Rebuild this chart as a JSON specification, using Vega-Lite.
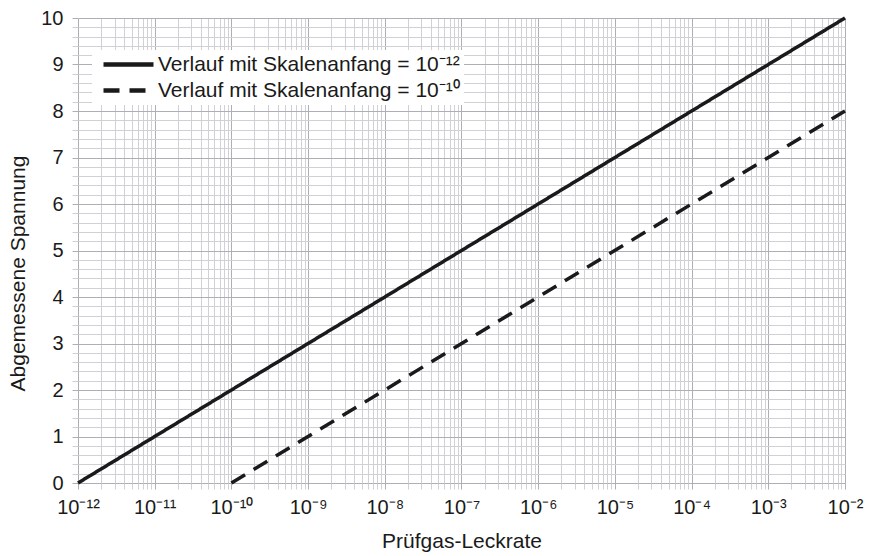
{
  "$schema": "https://vega.github.io/schema/vega-lite/v6.json",
  "width": 767,
  "height": 465,
  "autosize": "none",
  "padding": {"left": 78, "top": 18, "right": 24, "bottom": 73},
  "background": "white",
  "config": {
    "view": {"stroke": null},
    "font": "Liberation Sans"
  },
  "data": {
    "values": [
      {"x": 1e-12, "y": 0, "series": "Verlauf mit Skalenanfang = 10⁻¹²"},
      {"x": 1e-2, "y": 10, "series": "Verlauf mit Skalenanfang = 10⁻¹²"},
      {"x": 1e-10, "y": 0, "series": "Verlauf mit Skalenanfang = 10⁻¹⁰"},
      {"x": 1e-2, "y": 8, "series": "Verlauf mit Skalenanfang = 10⁻¹⁰"}
    ]
  },
  "mark": {"type": "line", "strokeWidth": 3.5, "color": "#1a1a1a", "strokeCap": "butt"},
  "encoding": {
    "x": {
      "field": "x",
      "type": "quantitative",
      "scale": {"type": "log", "domain": [1e-12, 1e-2], "nice": false},
      "axis": {
        "title": "Prüfgas-Leckrate",
        "titleFontSize": 21,
        "titleFontWeight": "normal",
        "titleColor": "#1a1a1a",
        "titlePadding": 13,
        "values": [1e-12,2e-12,3e-12,4e-12,5e-12,6e-12,7e-12,8e-12,9e-12,
                   1e-11,2e-11,3e-11,4e-11,5e-11,6e-11,7e-11,8e-11,9e-11,
                   1e-10,2e-10,3e-10,4e-10,5e-10,6e-10,7e-10,8e-10,9e-10,
                   1e-9,2e-9,3e-9,4e-9,5e-9,6e-9,7e-9,8e-9,9e-9,
                   1e-8,2e-8,3e-8,4e-8,5e-8,6e-8,7e-8,8e-8,9e-8,
                   1e-7,2e-7,3e-7,4e-7,5e-7,6e-7,7e-7,8e-7,9e-7,
                   1e-6,2e-6,3e-6,4e-6,5e-6,6e-6,7e-6,8e-6,9e-6,
                   1e-5,2e-5,3e-5,4e-5,5e-5,6e-5,7e-5,8e-5,9e-5,
                   1e-4,2e-4,3e-4,4e-4,5e-4,6e-4,7e-4,8e-4,9e-4,
                   1e-3,2e-3,3e-3,4e-3,5e-3,6e-3,7e-3,8e-3,9e-3,
                   1e-2],
        "labelExpr": "abs(datum.value / pow(10, round(log(datum.value)/LN10)) - 1) < 0.01 ? ['10⁻¹²','10⁻¹¹','10⁻¹⁰','10⁻⁹','10⁻⁸','10⁻⁷','10⁻⁶','10⁻⁵','10⁻⁴','10⁻³','10⁻²'][round(log(datum.value)/LN10) + 12] : ''",
        "labelFontSize": 20,
        "labelColor": "#1a1a1a",
        "labelPadding": 8,
        "labelOverlap": false,
        "labelBound": false,
        "labelFlush": false,
        "domain": false,
        "grid": true,
        "gridColor": {"condition": {"test": "abs(datum.value / pow(10, round(log(datum.value)/LN10)) - 1) < 0.01", "value": "#aeaeb6"}, "value": "#d0d0d5"},
        "gridWidth": 1,
        "ticks": true,
        "tickSize": 6,
        "tickColor": {"condition": {"test": "abs(datum.value / pow(10, round(log(datum.value)/LN10)) - 1) < 0.01", "value": "#aeaeb6"}, "value": "#d0d0d5"}
      }
    },
    "y": {
      "field": "y",
      "type": "quantitative",
      "scale": {"domain": [0, 10], "nice": false},
      "axis": {
        "title": "Abgemessene Spannung",
        "titleFontSize": 21,
        "titleFontWeight": "normal",
        "titleColor": "#1a1a1a",
        "titlePadding": 12,
        "titleY": 255,
        "values": [0,0.2,0.4,0.6,0.8,1,1.2,1.4,1.6,1.8,2,2.2,2.4,2.6,2.8,3,3.2,3.4,3.6,3.8,4,4.2,4.4,4.6,4.8,5,5.2,5.4,5.6,5.8,6,6.2,6.4,6.6,6.8,7,7.2,7.4,7.6,7.8,8,8.2,8.4,8.6,8.8,9,9.2,9.4,9.6,9.8,10],
        "labelExpr": "abs(datum.value - round(datum.value)) < 0.01 ? '' + round(datum.value) : ''",
        "labelFontSize": 20,
        "labelColor": "#1a1a1a",
        "labelPadding": 9,
        "labelOverlap": false,
        "labelBound": false,
        "labelFlush": false,
        "domain": false,
        "grid": true,
        "gridColor": {"condition": {"test": "abs(datum.value - round(datum.value)) < 0.01", "value": "#aeaeb6"}, "value": "#d0d0d5"},
        "gridWidth": 1,
        "ticks": true,
        "tickSize": 6,
        "tickColor": {"condition": {"test": "abs(datum.value - round(datum.value)) < 0.01", "value": "#aeaeb6"}, "value": "#d0d0d5"}
      }
    },
    "strokeDash": {
      "field": "series",
      "type": "nominal",
      "scale": {
        "domain": ["Verlauf mit Skalenanfang = 10⁻¹²", "Verlauf mit Skalenanfang = 10⁻¹⁰"],
        "range": [[1, 0], [16, 10]]
      },
      "legend": {
        "title": null,
        "orient": "none",
        "legendX": 14,
        "legendY": 32,
        "fillColor": "white",
        "padding": 4,
        "symbolType": "M-1,0H9",
        "symbolSize": 100,
        "symbolOffset": 2,
        "symbolStrokeWidth": 4.5,
        "symbolStrokeColor": "#1a1a1a",
        "labelFontSize": 21,
        "labelColor": "#1a1a1a",
        "labelLimit": 400,
        "labelOffset": 39,
        "rowPadding": 4,
        "encode": {
          "symbols": {
            "update": {
              "strokeDash": {"signal": "indexof(datum.value, '⁻¹⁰') >= 0 ? [12, 26, 12] : [1, 0]"}
            }
          }
        }
      }
    }
  }
}
